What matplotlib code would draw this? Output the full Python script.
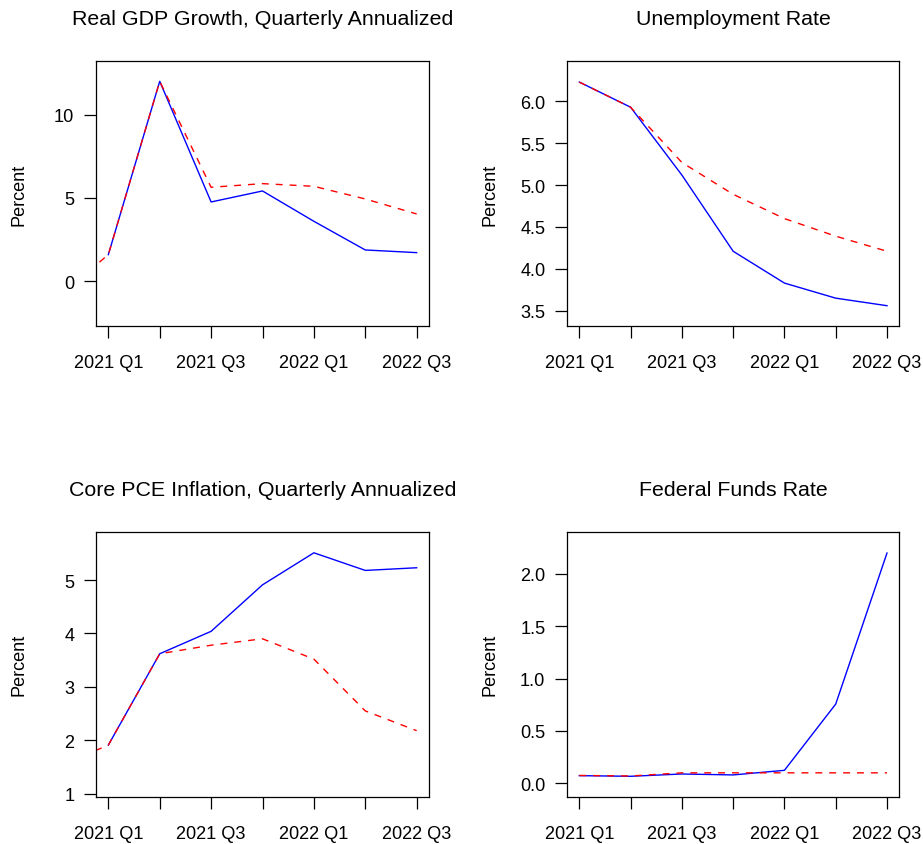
import numpy as np
import matplotlib
matplotlib.use("Agg")
import matplotlib.pyplot as plt

plt.rcParams['font.family'] = ['Liberation Sans', 'DejaVu Sans']

# quarters, the first one only carries the forecast's starting point
quarters = ["2020 Q4", "2021 Q1", "2021 Q2", "2021 Q3", "2021 Q4",
            "2022 Q1", "2022 Q2", "2022 Q3"]
nan = np.nan

gdp_actual = [nan, 1.6, 12.0, 4.76, 5.42, 3.6, 1.88, 1.72]
gdp_forecast = [-1.0, 1.6, 12.0, 5.64, 5.86, 5.7, 4.94, 4.04]

ur_actual = [nan, 6.23, 5.93, 5.12, 4.21, 3.83, 3.65, 3.56]
ur_forecast = [nan, 6.23, 5.93, 5.27, 4.89, 4.60, 4.39, 4.21]

pce_actual = [nan, 1.91, 3.62, 4.04, 4.91, 5.51, 5.18, 5.23]
pce_forecast = [1.5, 1.91, 3.62, 3.78, 3.90, 3.52, 2.55, 2.18]

ffr_actual = [nan, 0.073, 0.067, 0.089, 0.08, 0.124, 0.757, 2.2]
ffr_forecast = [nan, 0.075, 0.07, 0.1, 0.1, 0.1, 0.1, 0.1]

W, H = 923, 845
fig = plt.figure(figsize=(W / 100, H / 100), dpi=100)


def panel(rect_px, title, actual, forecast, ylim, yticks, fmt):
    x0, y0, x1, y1 = rect_px
    ax = fig.add_axes([x0 / W, 1 - y1 / H, (x1 - x0) / W, (y1 - y0) / H])
    x = np.arange(len(quarters))
    ax.plot(x, actual, color='#0000FF', lw=1.0)
    ax.plot(x, forecast, color='#FF0000', lw=1.0, ls=(0, (5, 5)))
    ax.set_xlim(0.76, 7.24)
    ax.set_ylim(*ylim)
    ax.set_xticks(x[1:])
    ax.set_xticklabels([q if i % 2 == 0 else "" for i, q in enumerate(quarters[1:])])
    ax.set_yticks(yticks)
    ax.set_yticklabels([fmt % v for v in yticks])
    ax.tick_params(axis='both', length=8.6, width=0.9, labelsize=13.1,
                   direction='out', color='black')
    ax.tick_params(axis='x', pad=11.5)
    ax.tick_params(axis='y', pad=7)
    for s in ax.spines.values():
        s.set_linewidth(0.9)
    ax.text(0.5, 1.14, title, transform=ax.transAxes, ha='center',
            va='baseline', fontsize=15.4)
    ax.text(-77 / (x1 - x0), 0.5, "Percent", transform=ax.transAxes,
            rotation=90, ha='center', va='center', fontsize=13.1)
    return ax


panel((96, 62.3, 429, 327.3), "Real GDP Growth, Quarterly Annualized",
      gdp_actual, gdp_forecast, (-2.7, 13.2), [0, 5, 10], "%d")
panel((567, 62.3, 899.3, 327.3), "Unemployment Rate",
      ur_actual, ur_forecast, (3.314, 6.478), [3.5, 4.0, 4.5, 5.0, 5.5, 6.0], "%.1f")
panel((96, 532.7, 429, 797.7), "Core PCE Inflation, Quarterly Annualized",
      pce_actual, pce_forecast, (0.944, 5.905), [1, 2, 3, 4, 5], "%d")
panel((567, 532.7, 899.3, 797.7), "Federal Funds Rate",
      ffr_actual, ffr_forecast, (-0.128, 2.404), [0.0, 0.5, 1.0, 1.5, 2.0], "%.1f")

fig.savefig("out.png", dpi=100)
